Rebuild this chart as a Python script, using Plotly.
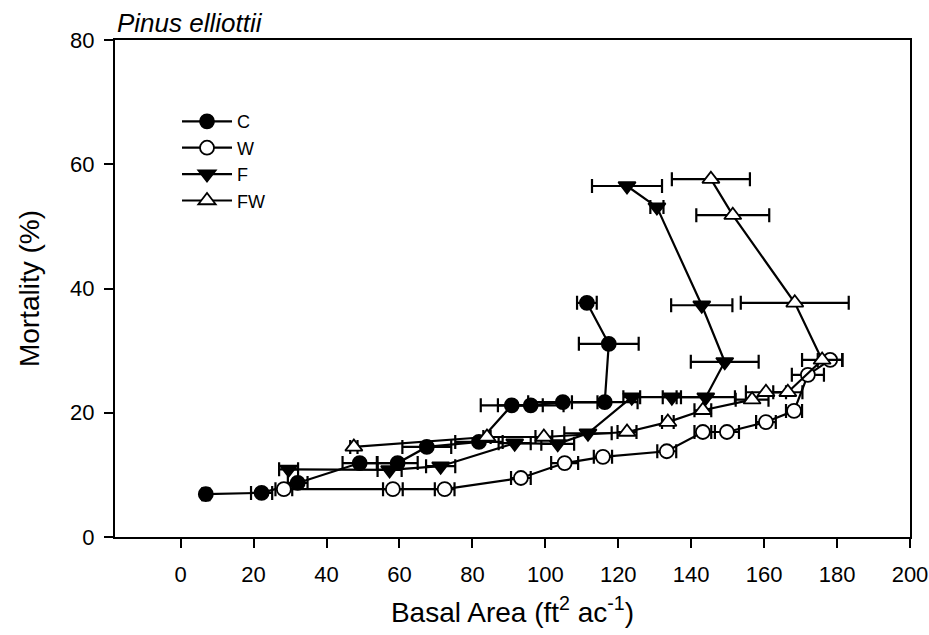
import plotly.graph_objects as go

# ---- data ----
c_x   = [6.9, 22.2, 32.1, 49.1, 59.5, 67.5, 81.8, 90.8, 96.0, 104.8, 116.3, 117.4, 111.4]
c_y   = [6.9, 7.1, 8.7, 11.9, 11.9, 14.5, 15.3, 21.2, 21.2, 21.7, 21.7, 31.1, 37.7]
c_err = [1.0, 2.9, 2.7, 4.7, 5.5, 6.7, 6.5, 8.5, 9.0, 9.5, 9.0, 8.2, 2.7]

w_x   = [28.3, 58.2, 72.4, 93.3, 105.3, 115.8, 133.3, 143.2, 149.8, 160.5, 168.2, 172.0, 178.1]
w_y   = [7.7, 7.7, 7.7, 9.5, 11.9, 12.9, 13.8, 16.9, 16.9, 18.5, 20.3, 26.1, 28.5]
w_err = [2.3, 2.7, 2.7, 2.7, 3.7, 2.5, 2.6, 2.3, 3.3, 2.7, 2.2, 4.4, 3.4]

f_x   = [29.6, 57.3, 71.3, 91.6, 103.4, 111.7, 123.7, 134.7, 144.0, 149.2, 142.9, 130.6, 122.4]
f_y   = [10.9, 10.8, 11.4, 15.1, 15.0, 16.7, 22.5, 22.5, 22.5, 28.2, 37.3, 53.1, 56.5]
f_err = [2.6, 3.3, 4.0, 4.4, 4.5, 6.5, 2.3, 2.5, 8.0, 9.3, 8.4, 1.8, 9.6]

fw_x   = [47.5, 84.0, 99.6, 122.4, 133.6, 143.2, 156.7, 160.5, 166.5, 175.9, 168.4, 151.4, 145.4]
fw_y   = [14.5, 16.1, 16.1, 16.9, 18.5, 20.4, 22.1, 23.3, 23.3, 28.5, 37.7, 51.8, 57.6]
fw_err = [1.0, 1.0, 2.3, 2.6, 1.6, 2.3, 4.5, 5.5, 4.0, 5.5, 14.8, 10.0, 10.7]

x_ticks = [0, 20, 40, 60, 80, 100, 120, 140, 160, 180, 200]
y_ticks = [0, 20, 40, 60, 80]

FONT = "Liberation Sans, Arial, sans-serif"

series = [
    ("C", c_x, c_y, c_err, "circle", "black", 14),
    ("W", w_x, w_y, w_err, "circle", "white", 14),
    ("F", f_x, f_y, f_err, "triangle-down", "black", 15),
    ("FW", fw_x, fw_y, fw_err, "triangle-up", "white", 15),
]

fig = go.Figure()
for name, xs, ys, errs, sym, fill, size in series:
    fig.add_trace(go.Scatter(
        x=xs, y=ys, name=name, mode="lines+markers",
        line=dict(color="black", width=2.2),
        marker=dict(symbol=sym, color=fill, size=size,
                    line=dict(color="black", width=1.8)),
        error_x=dict(type="data", array=errs, visible=True,
                     color="black", thickness=2.2, width=7),
    ))

fig.update_layout(
    width=929, height=635,
    margin=dict(l=115, r=19, t=40, b=98, autoexpand=False),
    paper_bgcolor="white", plot_bgcolor="white",
    font=dict(family=FONT, color="black"),
    showlegend=True,
    legend=dict(x=0.078, y=0.873, xanchor="left", yanchor="top",
                bgcolor="rgba(0,0,0,0)", font=dict(size=18, family=FONT),
                itemwidth=50, tracegroupgap=0),
    annotations=[dict(text="<i>Pinus elliottii</i>", xref="paper", yref="paper",
                      x=0.0, y=1.0, xanchor="left", yanchor="bottom",
                      showarrow=False, font=dict(size=26, family=FONT))],
)
fig.update_xaxes(
    range=[-18, 200], tickvals=x_ticks, ticktext=[str(v) for v in x_ticks],
    showline=True, linecolor="black", linewidth=2, mirror=True,
    ticks="outside", ticklen=9, tickwidth=2, tickcolor="black",
    showgrid=False, zeroline=False, tickfont=dict(size=22),
    ticklabelstandoff=8, automargin=False,
    title=dict(text="Basal Area (ft<sup>2</sup> ac<sup>-1</sup>)",
               font=dict(size=28), standoff=16),
)
fig.update_yaxes(
    range=[0, 80], tickvals=y_ticks, ticktext=[str(v) for v in y_ticks],
    showline=True, linecolor="black", linewidth=2, mirror=True,
    ticks="outside", ticklen=9, tickwidth=2, tickcolor="black",
    showgrid=False, zeroline=False, tickfont=dict(size=22),
    ticklabelstandoff=5, automargin=False,
    title=dict(text="Mortality (%)", font=dict(size=28), standoff=22),
)

fig.write_html("out.html")
